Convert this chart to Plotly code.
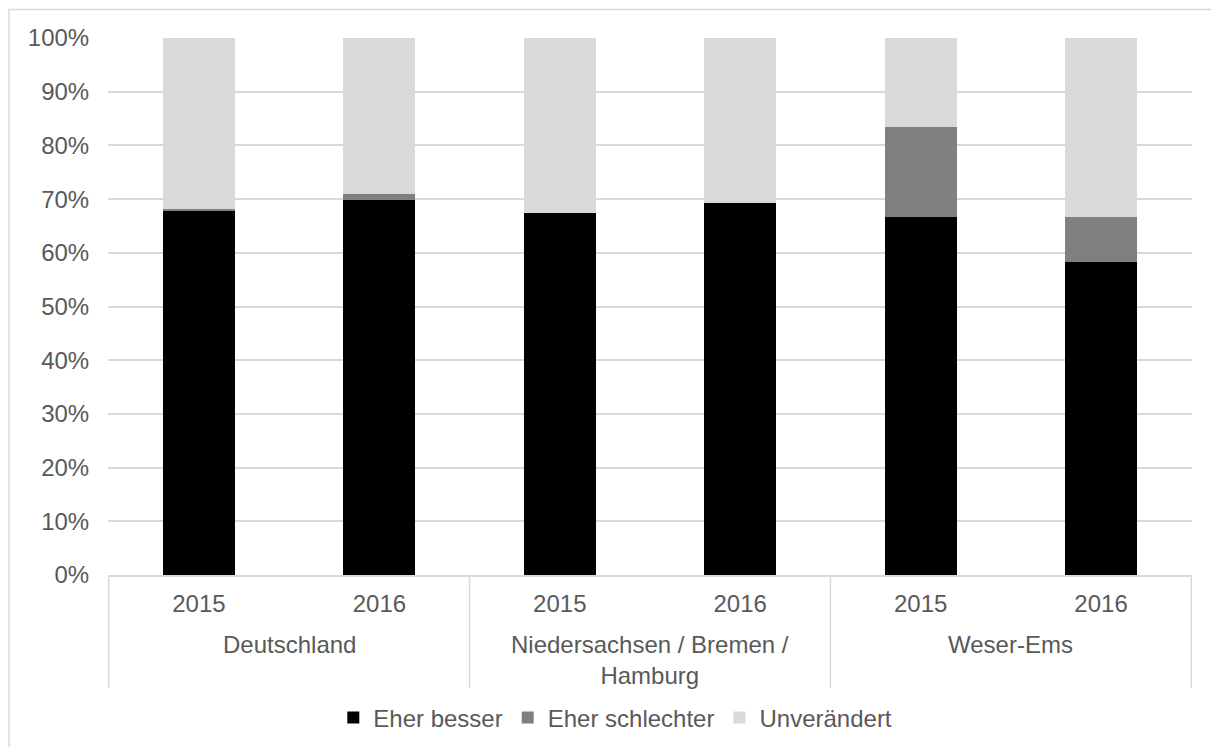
import plotly.graph_objects as go

groups = ["Deutschland", "Niedersachsen / Bremen / Hamburg", "Weser-Ems"]
group_labels = ["Deutschland", "Niedersachsen / Bremen /<br>Hamburg", "Weser-Ems"]
years = ["2015", "2016"]

eher_besser = [67.8, 69.9, 67.5, 69.3, 66.7, 58.3]
eher_schlechter = [0.3, 1.1, 0.0, 0.0, 16.7, 8.3]
unveraendert = [31.9, 29.0, 32.5, 30.7, 16.6, 33.4]

y_ticks = list(range(0, 101, 10))

series = [
    ("Eher besser", eher_besser, "#000000"),
    ("Eher schlechter", eher_schlechter, "#808080"),
    ("Unverändert", unveraendert, "#d9d9d9"),
]

FONT = "Liberation Sans, Arial, sans-serif"
TXT = "#595959"
LINE = "#d9d9d9"
FS = 24

cats = [f"{g} {y}" for g in groups for y in years]
cat_text = [y for g in groups for y in years]

fig = go.Figure()
for name, vals, col in series:
    fig.add_trace(go.Bar(
        x=cats, y=vals, name=name,
        marker=dict(color=col, line=dict(width=0)),
    ))

# page body has an 8px margin, so the figure is sized/margined to compensate
FIG_H = 739
fig.update_layout(
    barmode="stack",
    bargap=0.6,
    width=1211, height=FIG_H,
    margin=dict(l=100, r=27, t=30, b=172, autoexpand=False),
    paper_bgcolor="white", plot_bgcolor="white",
    font=dict(family=FONT, size=FS, color=TXT),
    legend=dict(orientation="h", x=0.468, xanchor="center",
                yref="container", y=1 - (718 - 8) / FIG_H, yanchor="middle",
                font=dict(size=FS, color=TXT), traceorder="normal",
                itemwidth=30, tracegroupgap=0),
    showlegend=True,
)
fig.update_yaxes(
    range=[0, 100], tickvals=y_ticks, ticktext=[f"{v}%" for v in y_ticks],
    showgrid=True, gridcolor=LINE, gridwidth=1.5,
    zeroline=False, showline=False,
    ticks="outside", ticklen=13, tickcolor="rgba(0,0,0,0)",
    tickfont=dict(size=FS, color=TXT), automargin=False,
)
fig.update_xaxes(
    type="category", tickvals=cats, ticktext=cat_text,
    showline=True, linecolor=LINE, linewidth=1.5,
    showgrid=False, ticks="outside", ticklen=6, tickcolor="rgba(0,0,0,0)",
    tickfont=dict(size=FS, color=TXT), automargin=False,
)

# group labels under the year labels
n_years = len(years)
for i, lab in enumerate(group_labels):
    fig.add_annotation(
        x=i * n_years + (n_years - 1) / 2, xref="x",
        y=-(629 - 575) / 537, yref="paper", yanchor="top",
        text=lab, showarrow=False, font=dict(size=FS, color=TXT),
    )

# group dividers
for i in range(len(groups) + 1):
    xv = i * n_years - 0.5
    fig.add_shape(type="line", xref="x", yref="paper",
                  x0=xv, x1=xv, y0=0, y1=-(688 - 575) / 537,
                  line=dict(color=LINE, width=1.5))

# outer chart frame
fig.add_shape(type="rect", xref="paper", yref="paper",
              x0=-0.0913, x1=1.05, y0=-0.40, y1=1.053,
              line=dict(color=LINE, width=1.5), fillcolor="rgba(0,0,0,0)", layer="below")

fig.write_html("out.html")
